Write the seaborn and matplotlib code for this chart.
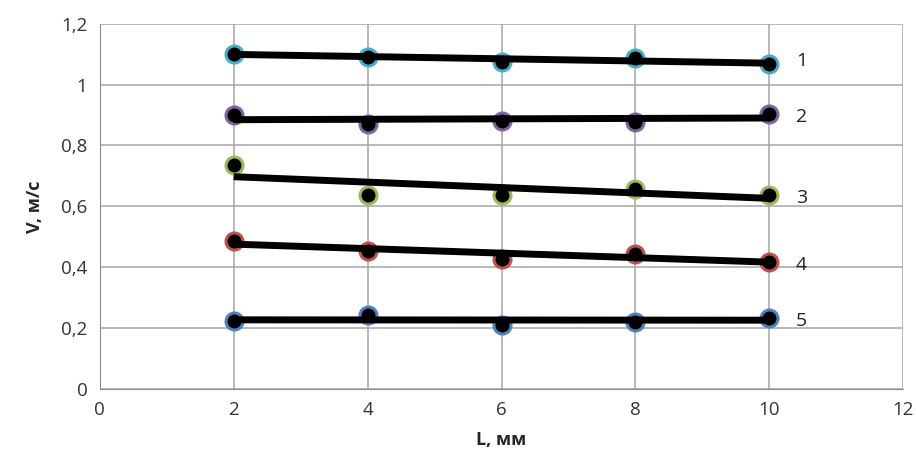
import matplotlib.pyplot as plt
import matplotlib.ticker as mticker
import pandas as pd
import seaborn as sns

L_MM = [2, 4, 6, 8, 10]
V1 = [1.102, 1.092, 1.076, 1.086, 1.069]
V2 = [0.901, 0.872, 0.882, 0.878, 0.905]
V3 = [0.737, 0.638, 0.638, 0.658, 0.638]
V4 = [0.487, 0.454, 0.428, 0.444, 0.418]
V5 = [0.224, 0.243, 0.211, 0.220, 0.234]
SERIES = ["1", "2", "3", "4", "5"]
COLORS = {"1": "#4BACC6", "2": "#8064A2", "3": "#9BBB59", "4": "#C0504D", "5": "#4F81BD"}

sns.set_style("white")
plt.rcParams["font.family"] = ["Open Sans", "DejaVu Sans"]

df = pd.concat(
    [pd.DataFrame({"L": L_MM, "V": v, "series": s}) for s, v in zip(SERIES, [V1, V2, V3, V4, V5])],
    ignore_index=True,
)

fig = plt.figure(figsize=(9.16, 4.76), dpi=100)
ax = fig.add_axes([0.109, 0.183, 0.877, 0.767])

for s in SERIES:
    sub = df[df["series"] == s]
    sns.scatterplot(
        data=sub, x="L", y="V", s=150, color="black", edgecolor=COLORS[s],
        linewidth=2.2, legend=False, ax=ax, zorder=3,
    )
    sns.regplot(
        data=sub, x="L", y="V", scatter=False, ci=None, truncate=True,
        line_kws={"color": "black", "linewidth": 5, "solid_capstyle": "butt", "zorder": 4},
        ax=ax,
    )
    last = sub["V"].iloc[-1]
    ax.text(10.48, last + 0.01 if s == "1" else last - 0.01, s, fontsize=14,
            ha="center", va="center", color="#222222")

ax.set_xlim(0, 12)
ax.set_ylim(0, 1.2)
ax.set_xticks(range(0, 13, 2))
ax.set_yticks([0, 0.2, 0.4, 0.6, 0.8, 1.0, 1.2])
fmt = mticker.FuncFormatter(lambda v, p: f"{v:g}".replace(".", ","))
ax.xaxis.set_major_formatter(fmt)
ax.yaxis.set_major_formatter(fmt)
ax.grid(True, color="#A6A6A6", linewidth=1.1)
ax.set_axisbelow(True)
for side in ["top", "right"]:
    ax.spines[side].set_visible(False)
for side in ["left", "bottom"]:
    ax.spines[side].set_color("#8C8C8C")
ax.tick_params(axis="both", length=0, labelsize=13.5, colors="#333333", pad=9)
ax.set_xlabel("L, мм", fontsize=13, fontweight="bold", labelpad=8)
ax.set_ylabel("V, м/с", fontsize=13, fontweight="bold", labelpad=12)

fig.savefig("out.png", dpi=100)
